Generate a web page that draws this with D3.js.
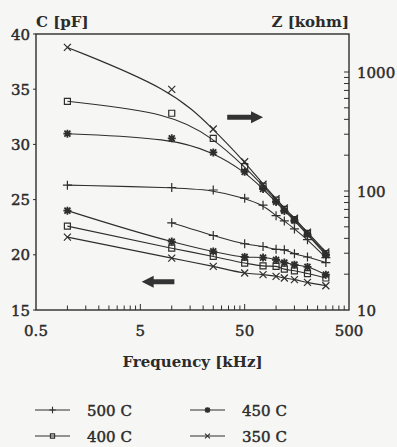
<!DOCTYPE html>
<html>
<head>
<meta charset="utf-8">
<script src="https://cdn.jsdelivr.net/npm/d3@7"></script>
<style>
  body { margin: 0; background: #f6f6f4; }
  svg { display: block; }
  text { font-family: "DejaVu Serif", serif; fill: #2b2b2b; }
</style>
</head>
<body>
<div id="chart"></div>
<script>
// frequencies in kHz
const freqs = [1, 10, 25, 50, 75, 100, 120, 150, 200, 300];
const temps = ['500 C', '450 C', '400 C', '350 C'];
const markers = ['plus', 'star', 'square', 'cross'];

// capacitance C [pF]  (left axis)
const cap500 = [null, 22.9, 21.75, 21.0, 20.75, 20.5, 20.45, 20.1, 19.8, 19.3];
const cap450 = [24.0, 21.2, 20.3, 19.8, 19.75, 19.55, 19.3, 19.1, 18.9, 18.2];
const cap400 = [22.6, 20.6, 19.85, 19.25, 19.0, 18.95, 18.7, 18.55, 18.3, 17.9];
const cap350 = [21.6, 19.7, 18.95, 18.35, 18.2, 18.05, 17.9, 17.75, 17.5, 17.2];

// impedance Z [kohm]  (right axis)
const imp500 = [112, 107, 102, 87, 76, 62, 56, 48, 39, 27.5];
const imp450 = [303, 277, 211, 145, 104, 81, 68, 56.5, 43, 29];
const imp400 = [567, 450, 277, 160, 110, 84, 70, 57.5, 44, 29.8];
const imp350 = [1610, 715, 332, 176, 114, 86, 72, 59, 45, 30.7];

const xTickLabels = [0.5, 5, 50, 500];
const cTicks = [15, 20, 25, 30, 35, 40];
const zTickLabels = [10, 100, 1000];

const caps = [cap500, cap450, cap400, cap350];
const imps = [imp500, imp450, imp400, imp350];

const W = 397, H = 447;
const margin = { top: 34, right: 48, bottom: 137, left: 36 };
const width = W - margin.left - margin.right;
const height = H - margin.top - margin.bottom;
const ink = '#2e2e2e';

const x = d3.scaleLog().domain([0.5, 500]).range([0, width]);
const yC = d3.scaleLinear().domain([15, 40]).range([height, 0]);
const yZ = d3.scaleLog().domain([10, 10 * Math.pow(10, 276 / 119)]).range([height, 0]);

const svg = d3.select('#chart').append('svg')
  .attr('width', W).attr('height', H);
const g = svg.append('g')
  .attr('transform', `translate(${margin.left},${margin.top})`);

// marker shapes
function markerPath(type, s) {
  if (type === 'plus') return `M${-s},0H${s}M0,${-s}V${s}`;
  if (type === 'cross') return `M${-s},${-s}L${s},${s}M${-s},${s}L${s},${-s}`;
  if (type === 'square') return `M${-s},${-s}H${s}V${s}H${-s}Z`;
  // asterisk
  const d = s * 0.75;
  return `M${-s},0H${s}M0,${-s}V${s}M${-d},${-d}L${d},${d}M${-d},${d}L${d},${-d}`;
}
const markerSize = { plus: 4.5, cross: 3.5, square: 3, star: 4 };

function label(sel, size) {
  return sel.attr('font-size', size)
    .attr('stroke', '#2b2b2b').attr('stroke-width', 0.45);
}

// frame
g.append('rect')
  .attr('width', width).attr('height', height)
  .attr('fill', 'none').attr('stroke', ink).attr('stroke-width', 1.4);

// bottom axis: inward ticks
const xTicks = [];
[0.5, 5, 50].forEach(d => { for (let k = 1; k < 10; k++) xTicks.push(d * k); });
g.append('g').selectAll('line').data(xTicks.filter(d => d > 0.5)).enter()
  .append('line')
  .attr('x1', d => x(d)).attr('x2', d => x(d))
  .attr('y1', height).attr('y2', d => xTickLabels.includes(d) ? height - 6 : height - 4.5)
  .attr('stroke', ink).attr('stroke-width', 1);
label(g.append('g').selectAll('text').data(xTickLabels).enter()
  .append('text')
  .attr('x', d => x(d)).attr('y', height + 26)
  .attr('text-anchor', 'middle'), 15)
  .text(d => d);

// left axis: outward ticks
g.append('g').selectAll('line').data(cTicks).enter()
  .append('line')
  .attr('x1', -3).attr('x2', 0)
  .attr('y1', d => yC(d)).attr('y2', d => yC(d))
  .attr('stroke', ink).attr('stroke-width', 1);
label(g.append('g').selectAll('text').data(cTicks).enter()
  .append('text')
  .attr('x', -6).attr('y', d => yC(d) + 5.5)
  .attr('text-anchor', 'end'), 15)
  .text(d => d);

// right axis: inward log ticks
const zTicks = [];
[10, 100].forEach(d => { for (let k = 2; k <= 10; k++) zTicks.push(d * k); });
g.append('g').selectAll('line').data(zTicks).enter()
  .append('line')
  .attr('x1', width - 5).attr('x2', width)
  .attr('y1', d => yZ(d)).attr('y2', d => yZ(d))
  .attr('stroke', ink).attr('stroke-width', 1);
label(g.append('g').selectAll('text').data(zTickLabels).enter()
  .append('text')
  .attr('x', width + 8).attr('y', d => yZ(d) + 5.5), 15)
  .text(d => d);

// axis titles
g.append('text').attr('x', 0).attr('y', -7)
  .attr('font-size', 15).attr('font-weight', 'bold').text('C [pF]');
g.append('text').attr('x', width).attr('y', -7)
  .attr('text-anchor', 'end')
  .attr('font-size', 15).attr('font-weight', 'bold').text('Z [kohm]');
g.append('text').attr('x', width / 2).attr('y', height + 57)
  .attr('text-anchor', 'middle')
  .attr('font-size', 15).attr('font-weight', 'bold').text('Frequency [kHz]');

// curves (Z curves are smoothed fits, not exact interpolation)
const lineC = d3.line()
  .curve(d3.curveMonotoneX)
  .x(d => x(d.f)).y(d => yC(d.v));
const lineZ = d3.line()
  .curve(d3.curveBasis)
  .x(d => x(d.f)).y(d => yZ(d.v));

function pts(arr) {
  return freqs.map((f, i) => ({ f: f, v: arr[i] })).filter(d => d.v != null);
}

temps.forEach((t, s) => {
  const type = markers[s];
  [[caps[s], lineC, yC], [imps[s], lineZ, yZ]].forEach(([arr, ln, ys]) => {
    const p = pts(arr);
    g.append('path')
      .attr('d', ln(p))
      .attr('fill', 'none').attr('stroke', ink).attr('stroke-width', 1.1);
    g.append('g').selectAll('path').data(p).enter()
      .append('path')
      .attr('transform', d => `translate(${x(d.f)},${ys(d.v)})`)
      .attr('d', markerPath(type, markerSize[type]))
      .attr('fill', 'none').attr('stroke', ink)
      .attr('stroke-width', type === 'star' ? 1.8 : 1.2);
  });
});

// arrows showing which axis applies
function arrow(x0, x1, yy) {
  const dir = Math.sign(x1 - x0);
  const hx = x1 - dir * 12;
  return `M${x0},${yy - 2.5}H${hx}V${yy - 6}L${x1},${yy}L${hx},${yy + 6}V${yy + 2.5}H${x0}Z`;
}
g.append('path').attr('d', arrow(x(34), x(75), yC(32.45))).attr('fill', '#333');
g.append('path').attr('d', arrow(x(10.6), x(5.15), yC(17.55))).attr('fill', '#333');

// legend
const legend = svg.append('g');
temps.forEach((t, i) => {
  const col = i % 2, row = Math.floor(i / 2);
  const lx = 35 + col * 155, ly = 410 + row * 26;
  legend.append('line')
    .attr('x1', lx).attr('x2', lx + 35).attr('y1', ly).attr('y2', ly)
    .attr('stroke', ink).attr('stroke-width', 1.1);
  legend.append('path')
    .attr('transform', `translate(${lx + 17.5},${ly})`)
    .attr('d', markerPath(markers[i], markerSize[markers[i]] * 0.7))
    .attr('fill', 'none').attr('stroke', ink)
    .attr('stroke-width', markers[i] === 'star' ? 1.6 : 1.1);
  label(legend.append('text')
    .attr('x', lx + 52).attr('y', ly + 5.5), 15)
    .text(t);
});
</script>
</body>
</html>
